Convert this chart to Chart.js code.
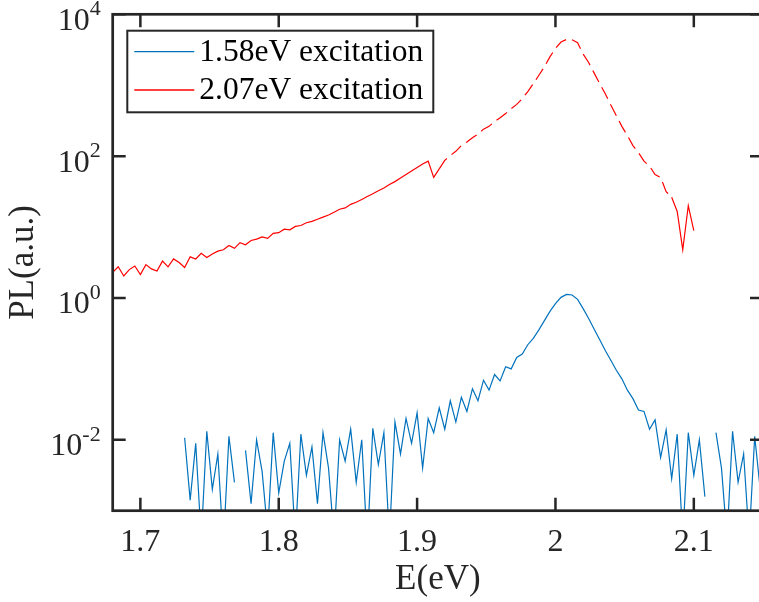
<!DOCTYPE html>
<html>
<head>
<meta charset="utf-8">
<title>PL spectra</title>
<script src="https://cdn.jsdelivr.net/npm/chart.js@4.4.1/dist/chart.umd.min.js"></script>
<style>
  html, body { margin: 0; padding: 0; background: #fff; overflow: hidden; }
  #wrap { width: 765px; height: 602px; }
</style>
</head>
<body>
<div id="wrap"><canvas id="plChart" width="765" height="602"></canvas></div>
<script>
// photon energy grid (eV), shared by both spectra
const energy = [
  1.680, 1.684, 1.688, 1.692, 1.696, 1.700, 1.704, 1.708, 1.712, 1.716,
  1.720, 1.724, 1.728, 1.732, 1.736, 1.740, 1.744, 1.748, 1.752, 1.756,
  1.760, 1.764, 1.768, 1.772, 1.776, 1.780, 1.784, 1.788, 1.792, 1.796,
  1.800, 1.804, 1.808, 1.812, 1.816, 1.820, 1.824, 1.828, 1.832, 1.836,
  1.840, 1.844, 1.848, 1.852, 1.856, 1.860, 1.864, 1.868, 1.872, 1.876,
  1.880, 1.884, 1.888, 1.892, 1.896, 1.900, 1.904, 1.908, 1.912, 1.916,
  1.920, 1.924, 1.928, 1.932, 1.936, 1.940, 1.944, 1.948, 1.952, 1.956,
  1.960, 1.964, 1.968, 1.972, 1.976, 1.980, 1.984, 1.988, 1.992, 1.996,
  2.000, 2.004, 2.008, 2.012, 2.016, 2.020, 2.024, 2.028, 2.032, 2.036,
  2.040, 2.044, 2.048, 2.052, 2.056, 2.060, 2.064, 2.068, 2.072, 2.076,
  2.080, 2.084, 2.088, 2.092, 2.096, 2.100, 2.104, 2.108, 2.112, 2.116,
  2.120, 2.124, 2.128, 2.132, 2.136, 2.140, 2.144, 2.148
];

// PL, 1.58 eV excitation (null = nothing recorded there)
const plBlue = [
  null, null, null, null, null, null, null, null, null, null,
  null, null, null, 0.0107, 0.00141, 0.00891, 0.000398, 0.0132, 0.00200, 0.00631,
  0.000316, 0.0112, 0.00251, null, 0.00708, 0.00126, 0.0100, 0.00355, 0.000501, 0.0126,
  0.00178, 0.00501, 0.00891, 0.000398, 0.0120, 0.00316, 0.00794, 0.00126, 0.0126, 0.00398,
  0.000398, 0.0100, 0.00501, 0.0141, 0.00251, 0.0100, 0.000316, 0.0145, 0.00447, 0.0126,
  0.000398, 0.0178, 0.00631, 0.0200, 0.00891, 0.0240, 0.00398, 0.0200, 0.0126, 0.0282,
  0.0141, 0.0355, 0.0178, 0.0398, 0.0251, 0.0525, 0.0355, 0.0692, 0.0501, 0.0832,
  0.0676, 0.107, 0.100, 0.145, 0.162, 0.219, 0.269, 0.355, 0.479, 0.646,
  0.832, 1.02, 1.12, 1.10, 0.955, 0.708, 0.513, 0.363, 0.257, 0.182,
  0.132, 0.0955, 0.0724, 0.0501, 0.0380, 0.0263, 0.0251, 0.0141, 0.0191, 0.00562,
  0.0138, 0.00282, 0.0120, 0.000398, 0.0126, 0.00316, 0.0100, 0.00158, null, 0.0126,
  0.00398, 0.000398, 0.0132, 0.00251, 0.00631, 0.000398, 0.0112, 0.00200
];

// PL, 2.07 eV excitation
const plRed = [
  2.29, 2.75, 2.04, 2.51, 2.82, 2.14, 2.95, 2.57, 2.40, 3.31,
  2.75, 3.55, 3.16, 2.69, 3.80, 3.55, 4.27, 3.72, 4.17, 4.57,
  4.79, 5.50, 5.01, 6.03, 5.62, 6.46, 6.76, 7.24, 6.92, 8.13,
  8.32, 9.33, 9.12, 10.2, 10.5, 11.5, 12.0, 12.9, 13.8, 14.8,
  16.2, 17.8, 18.6, 20.9, 22.4, 24.5, 26.9, 29.5, 32.4, 35.5,
  39.8, 43.7, 49.0, 55.0, 61.7, 69.2, 77.6, 85.1, 50.1, 66.1,
  87.1, 102, 117, 141, 158, 182, 204, 240, 263, 309,
  347, 398, 468, 537, 646, 813, 1050, 1380, 1820, 2510,
  3310, 4070, 4420, 4370, 3980, 2750, 2090, 1480, 1050, 759,
  525, 372, 263, 195, 141, 112, 85.1, 72.4, 55.0, 50.1,
  31.6, 26.3, 16.6, 4.79, 20.0, 8.91, null, null, null, null,
  null, null, null, null, null, null, null, null
];

const seriesLabels = ['1.58eV excitation', '2.07eV excitation'];
const xTicks = [1.7, 1.8, 1.9, 2, 2.1];
const yTicks = [1e-2, 1, 1e2, 1e4];

const axisColor = '#262626';
const serif = '"Liberation Serif", "Times New Roman", serif';

// box, inward ticks, 10^n labels and legend drawn the MATLAB way
const matlabFrame = {
  id: 'matlabFrame',
  afterDraw(chart) {
    const { ctx, chartArea: a, scales: { x, y } } = chart;
    ctx.save();

    ctx.strokeStyle = axisColor;
    ctx.lineWidth = 2.5;
    ctx.beginPath();
    xTicks.forEach(v => {
      const px = x.getPixelForValue(v);
      ctx.moveTo(px, a.bottom); ctx.lineTo(px, a.bottom - 13);
      ctx.moveTo(px, a.top); ctx.lineTo(px, a.top + 13);
    });
    yTicks.forEach(v => {
      const py = y.getPixelForValue(v);
      ctx.moveTo(a.left, py); ctx.lineTo(a.left + 13, py);
      ctx.moveTo(a.right, py); ctx.lineTo(a.right - 13, py);
    });
    ctx.stroke();
    ctx.lineWidth = 2.7;
    ctx.strokeRect(a.left, a.top, a.right - a.left, a.bottom - a.top);

    // y tick labels as 10 with a raised exponent
    ctx.fillStyle = axisColor;
    ctx.textBaseline = 'middle';
    yTicks.forEach(v => {
      const py = y.getPixelForValue(v);
      const expText = String(Math.round(Math.log10(v)));
      const rightEdge = a.left - 12;
      ctx.font = `22px ${serif}`;
      const expW = ctx.measureText(expText).width;
      ctx.textAlign = 'left';
      ctx.fillText(expText, rightEdge - expW, py - 5);
      ctx.font = `32px ${serif}`;
      ctx.textAlign = 'right';
      ctx.fillText('10', rightEdge - expW, py + 7);
    });

    // legend, upper left inside the axes
    const lx = a.left + 14.6, ly = a.top + 16.4, lw = 306, lh = 81.6;
    ctx.fillStyle = '#fff';
    ctx.fillRect(lx, ly, lw, lh);
    ctx.lineWidth = 2;
    ctx.strokeStyle = axisColor;
    ctx.strokeRect(lx, ly, lw, lh);
    chart.data.datasets.forEach((ds, k) => {
      const rowY = ly + 21 + k * 38.3;
      ctx.strokeStyle = ds.borderColor;
      ctx.lineWidth = 1.3;
      ctx.beginPath();
      ctx.moveTo(lx + 7, rowY); ctx.lineTo(lx + 67, rowY);
      ctx.stroke();
      ctx.fillStyle = '#000';
      ctx.font = `31.5px ${serif}`;
      ctx.textAlign = 'left';
      ctx.fillText(ds.label, lx + 72, rowY + 1);
    });

    ctx.restore();
  }
};

const ctx = document.getElementById('plChart').getContext('2d');
new Chart(ctx, {
  type: 'line',
  data: {
    datasets: [
      {
        label: seriesLabels[0],
        data: energy.map((e, i) => ({ x: e, y: plBlue[i] })),
        borderColor: '#0072BD',
        borderWidth: 1.2,
        pointRadius: 0,
        tension: 0,
        spanGaps: false
      },
      {
        label: seriesLabels[1],
        data: energy.map((e, i) => ({ x: e, y: plRed[i] })),
        borderColor: '#FF0000',
        borderWidth: 1.2,
        pointRadius: 0,
        tension: 0,
        spanGaps: false,
        // the steep middle part of this trace renders broken up in the original
        segment: {
          borderDash: c => (c.p0.parsed.x >= 1.914 && c.p1.parsed.x <= 2.085) ? [13, 6] : undefined
        }
      }
    ]
  },
  options: {
    responsive: false,
    animation: false,
    devicePixelRatio: 1,
    layout: { padding: { top: 14.3, right: 2, bottom: 0, left: 0 } },
    plugins: { legend: { display: false }, tooltip: { enabled: false } },
    scales: {
      x: {
        type: 'linear',
        min: 1.68,
        max: 2.15,
        afterBuildTicks: s => { s.ticks = xTicks.map(v => ({ value: v })); },
        afterFit: s => { s.height = 91.3; },
        grid: { display: false, drawTicks: false },
        border: { display: false },
        ticks: {
          color: axisColor,
          font: { family: serif, size: 32 },
          padding: 13,
          maxRotation: 0,
          callback: v => String(v)
        },
        title: {
          display: true,
          text: 'E(eV)',
          color: axisColor,
          font: { family: serif, size: 35 },
          padding: { top: 0, bottom: 1 }
        }
      },
      y: {
        type: 'logarithmic',
        min: 1e-3,
        max: 1e4,
        afterBuildTicks: s => { s.ticks = yTicks.map(v => ({ value: v })); },
        afterFit: s => { s.width = 112.7; },
        grid: { display: false, drawTicks: false },
        border: { display: false },
        ticks: { display: false },
        title: {
          display: true,
          text: 'PL(a.u.)',
          color: axisColor,
          font: { family: serif, size: 35 },
          padding: { top: 3, bottom: 0 }
        }
      }
    }
  },
  plugins: [matlabFrame]
});
</script>
</body>
</html>
